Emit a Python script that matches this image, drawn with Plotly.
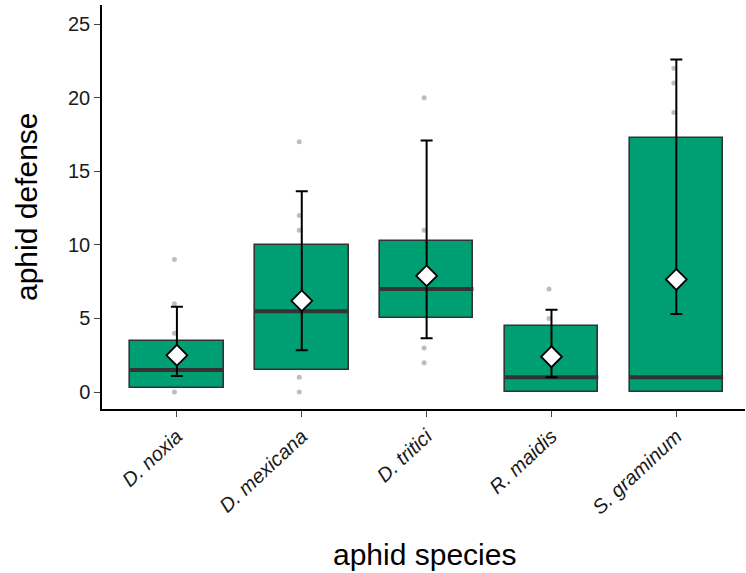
import plotly.graph_objects as go

species = ["D. noxia", "D. mexicana", "D. tritici", "R. maidis", "S. graminum"]
q1 = [0.25, 1.5, 5.0, 0.0, 0.0]
median = [1.5, 5.5, 7.0, 1.0, 1.0]
q3 = [3.5, 10.0, 10.25, 4.5, 17.25]
means = [2.5, 6.2, 7.9, 2.4, 7.65]
ci_low = [1.1, 2.85, 3.65, 1.0, 5.3]
ci_high = [5.8, 13.65, 17.1, 5.6, 22.6]
points = [
    [9, 6, 4, 0],
    [17, 12, 11, 1, 0],
    [20, 11, 3, 2],
    [7, 5],
    [22, 21, 19],
]

pos = list(range(len(species)))
box_w = 0.75
green = "#009E73"
dark = "#333333"

fig = go.Figure()

# boxes (no whiskers)
fig.add_trace(go.Bar(
    x=pos, y=[b - a for a, b in zip(q1, q3)], base=q1, width=box_w,
    marker=dict(color=green, line=dict(color=dark, width=1.6)),
    showlegend=False, hoverinfo="skip",
))

# median lines
mx, my = [], []
for i, m in zip(pos, median):
    mx += [i - box_w / 2, i + box_w / 2, None]
    my += [m, m, None]
fig.add_trace(go.Scatter(x=mx, y=my, mode="lines",
                         line=dict(color=dark, width=4), showlegend=False, hoverinfo="skip"))

# raw points
px, py = [], []
for i, pts in zip(pos, points):
    px += [i - 0.02] * len(pts)
    py += pts
fig.add_trace(go.Scatter(x=px, y=py, mode="markers",
                         marker=dict(color="#bdbdbd", size=5), showlegend=False))

# means with CI
fig.add_trace(go.Scatter(
    x=pos, y=means, mode="markers",
    marker=dict(symbol="diamond", size=16, color="white", line=dict(color="black", width=1.8)),
    error_y=dict(type="data", symmetric=False,
                 array=[h - m for h, m in zip(ci_high, means)],
                 arrayminus=[m - l for l, m in zip(ci_low, means)],
                 color="black", thickness=2, width=6),
    showlegend=False,
))

font_family = "Liberation Sans, Arial, sans-serif"
fig.update_layout(
    width=746, height=573,
    margin=dict(l=102, r=1, t=5, b=164, autoexpand=False),
    plot_bgcolor="white", paper_bgcolor="white",
    font=dict(family=font_family, color="#1a1a1a"),
    bargap=0,
    xaxis=dict(
        range=[-0.6, 4.55], tickmode="array", tickvals=pos,
        ticktext=[f"<i>{s}</i>" for s in species], tickangle=-43,
        tickfont=dict(size=20, color="#1a1a1a"),
        showline=True, linecolor="black", linewidth=1.5,
        ticks="outside", ticklen=6, tickcolor="#444444", tickwidth=1.2,
        showgrid=False, zeroline=False, automargin=False,
    ),
    yaxis=dict(
        range=[-1.15, 26.3], tickvals=[0, 5, 10, 15, 20, 25],
        tickfont=dict(size=20, color="#1a1a1a"),
        showline=True, linecolor="black", linewidth=1.5,
        ticks="outside", ticklen=6, tickcolor="#444444", tickwidth=1.2,
        showgrid=False, zeroline=False, automargin=False,
    ),
    annotations=[
        dict(text="aphid species", xref="paper", yref="paper", x=0.502, y=0,
             xanchor="center", yanchor="middle", yshift=-145, showarrow=False,
             font=dict(size=30, color="black")),
        dict(text="aphid defense", xref="paper", yref="paper", x=0, y=0.5,
             xanchor="center", yanchor="middle", xshift=-76, textangle=-90,
             showarrow=False, font=dict(size=30, color="black")),
    ],
)

fig.write_html("out.html", config={"displayModeBar": False},
               post_script="document.body.style.margin='0';document.body.style.overflow='hidden';")
